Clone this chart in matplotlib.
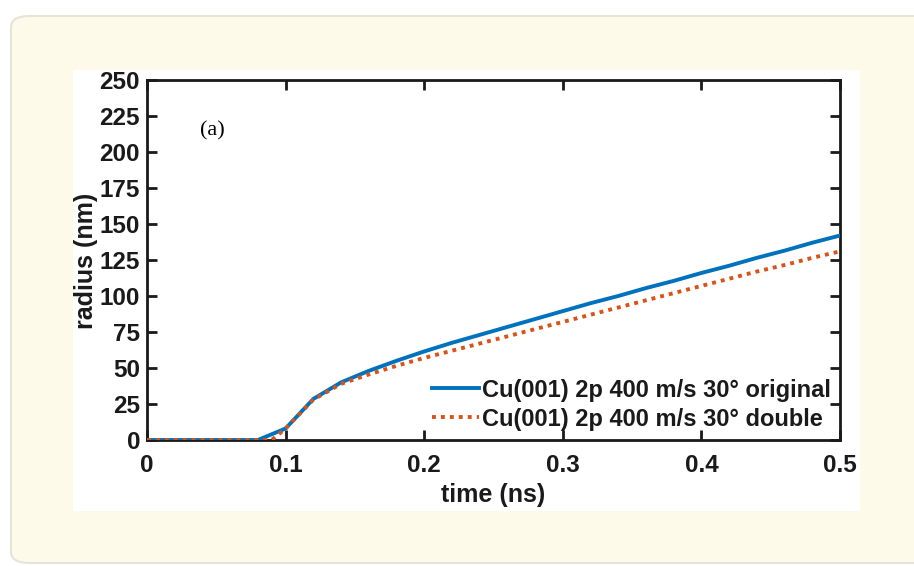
import numpy as np
import matplotlib
matplotlib.use('Agg')
import matplotlib.pyplot as plt
from matplotlib.patches import FancyBboxPatch, Rectangle

# data
t_orig = [0, 0.02, 0.04, 0.06, 0.08, 0.10, 0.12, 0.14, 0.16, 0.18, 0.20, 0.22,
          0.24, 0.26, 0.28, 0.30, 0.32, 0.34, 0.36, 0.38, 0.40, 0.42, 0.44,
          0.46, 0.48, 0.50]
r_orig = [0, 0, 0, 0, 0, 8, 28.5, 40, 48, 55, 61.5, 67.5, 73, 78.5, 84, 89.5,
          95, 100, 105.5, 110.5, 116, 121, 126.5, 131.5, 137, 142]
t_dbl = [0, 0.02, 0.04, 0.06, 0.08, 0.09, 0.10, 0.12, 0.14, 0.16, 0.18, 0.20,
         0.22, 0.24, 0.26, 0.28, 0.30, 0.32, 0.34, 0.36, 0.38, 0.40, 0.42,
         0.44, 0.46, 0.48, 0.50]
r_dbl = [0, 0, 0, 0, 0, 0, 8, 28, 39, 45.5, 51.5, 57, 62, 67, 72, 77, 82, 87,
         92, 97, 102, 107, 112, 117, 121.5, 126.5, 131]
lab_orig = 'Cu(001) 2p 400 m/s 30° original'
lab_dbl = 'Cu(001) 2p 400 m/s 30° double'
xticks = [0, 0.1, 0.2, 0.3, 0.4, 0.5]
xticklabels = ['0', '0.1', '0.2', '0.3', '0.4', '0.5']
yticks = list(range(0, 251, 25))

plt.rcParams['font.family'] = ['Liberation Sans', 'DejaVu Sans']

fig = plt.figure(figsize=(9.14, 5.66), dpi=100)
fig.patch.set_facecolor('white')

# page background, card and white panel
W, H = 914, 566
fig.patches.append(FancyBboxPatch((11 / W, 3 / H), 1.2, (563 - 16) / H,
                                  boxstyle='round,pad=0,rounding_size=0.02',
                                  transform=fig.transFigure,
                                  facecolor='#fefaea', edgecolor='#e6e4da',
                                  lw=1.5, zorder=-2))
fig.patches.append(Rectangle((73 / W, (H - 511) / H), (860 - 73) / W,
                             (511 - 70) / H, transform=fig.transFigure,
                             facecolor='white', edgecolor='none', zorder=-1))

ax = fig.add_axes([147 / W, (H - 440) / H, (840 - 147) / W, (440 - 80) / H])
ax.set_facecolor('white')

ax.plot(t_orig, r_orig, color='#0072BD', lw=2.8, label=lab_orig, zorder=3)
ax.plot(t_dbl, r_dbl, color='#D95319', lw=2.8, ls=(0, (1, 1.3)), label=lab_dbl,
        zorder=4)

ax.set_xlim(0, 0.5)
ax.set_ylim(0, 250)
ax.set_xticks(xticks)
ax.set_xticklabels(xticklabels)
ax.set_yticks(yticks)
for s in ax.spines.values():
    s.set_linewidth(2)
    s.set_color('#1a1a1a')
ax.tick_params(direction='in', length=7, width=2, top=True, right=True,
               labelsize=17.5, colors='#1a1a1a')
ax.tick_params(axis='x', pad=10)
ax.tick_params(axis='y', pad=5)
for lb in ax.get_xticklabels() + ax.get_yticklabels():
    lb.set_fontweight('bold')

ax.text(0.5, (440 - 495) / 360, 'time (ns)', transform=ax.transAxes,
        fontsize=18, fontweight='bold', ha='center', va='center',
        color='#1a1a1a')
ax.text((86 - 147) / 693, (440 - 261) / 360, 'radius (nm)',
        transform=ax.transAxes, fontsize=18, fontweight='bold', ha='center',
        va='center', rotation=90, color='#1a1a1a')

ax.text(0.094, 0.86, '(a)', transform=ax.transAxes, fontsize=16,
        family=['Liberation Serif', 'DejaVu Serif'], va='center', ha='center')

leg = ax.legend(loc='lower right', frameon=False,
                prop={'weight': 'bold', 'size': 17}, handlelength=2.0,
                handletextpad=0.1, borderaxespad=0.3, labelspacing=0.25,
                borderpad=0.1)
for tx in leg.get_texts():
    tx.set_color('#1a1a1a')

fig.savefig('out.png', dpi=100)
